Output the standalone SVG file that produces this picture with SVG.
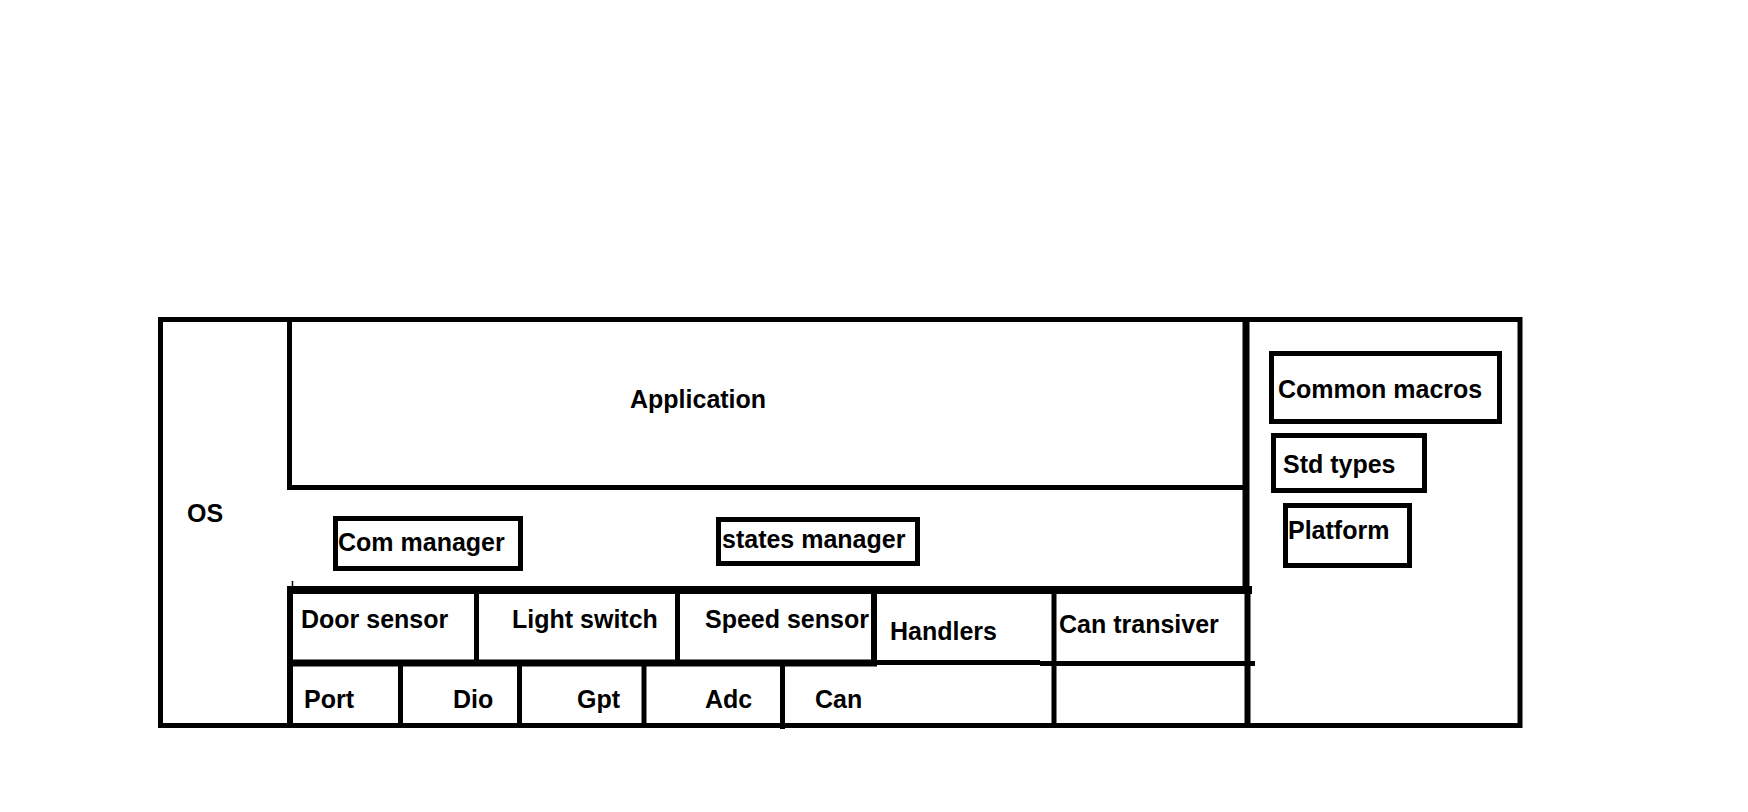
<svg xmlns="http://www.w3.org/2000/svg" width="1748" height="812" viewBox="0 0 1748 812">
<style>
  .b { fill: none; stroke: #000; stroke-width: 5; }
  .t { font-family: "Liberation Sans", Arial, sans-serif; font-weight: bold; font-size: 25px; fill: #000; }
  line { stroke: #000; stroke-width: 5; }
</style>
<rect width="1748" height="812" fill="#fff"/>
<g id="frame">
  <rect class="b" x="160.5" y="319.5" width="1359.5" height="406"/>
</g>
<g id="connectors">
  <line x1="289.5" y1="317" x2="289.5" y2="490"/>
  <line x1="290" y1="586" x2="290" y2="728" style="stroke-width:6"/>
  <line x1="292.5" y1="581" x2="292.5" y2="590" style="stroke-width:1.5"/>
  <line x1="287" y1="487.5" x2="1249" y2="487.5"/>
  <line x1="1246" y1="317" x2="1246" y2="592" style="stroke-width:7"/>
  <line x1="1247.5" y1="590" x2="1247.5" y2="728" style="stroke-width:6"/>
  <line x1="287" y1="590" x2="1252" y2="590" style="stroke-width:8"/>
  <line x1="476.5" y1="590" x2="476.5" y2="663"/>
  <line x1="677.5" y1="590" x2="677.5" y2="663"/>
  <line x1="874" y1="590" x2="874" y2="666" style="stroke-width:6"/>
  <line x1="1054" y1="590" x2="1054" y2="728"/>
  <line x1="287" y1="663" x2="877" y2="663" style="stroke-width:7"/>
  <line x1="874" y1="662.5" x2="1040" y2="662.5"/>
  <line x1="1040" y1="663.5" x2="1255" y2="663.5"/>
  <line x1="400.5" y1="663" x2="400.5" y2="725"/>
  <line x1="519.5" y1="663" x2="519.5" y2="725"/>
  <line x1="644" y1="663" x2="644" y2="725"/>
  <line x1="782.5" y1="663" x2="782.5" y2="729"/>
</g>
<g id="os"><text class="t" x="187" y="522">OS</text></g>
<g id="application"><text class="t" x="630" y="408">Application</text></g>
<g id="com-manager">
  <rect class="b" x="335.5" y="518.5" width="185" height="50"/>
  <text class="t" x="338" y="551">Com manager</text>
</g>
<g id="states-manager">
  <rect class="b" x="718.5" y="519.5" width="199" height="44"/>
  <text class="t" x="722" y="548">states manager</text>
</g>
<g id="common-macros">
  <rect class="b" x="1271.5" y="353.5" width="228" height="68"/>
  <text class="t" x="1278" y="398">Common macros</text>
</g>
<g id="std-types">
  <rect class="b" x="1273.5" y="435.5" width="151" height="55"/>
  <text class="t" x="1283" y="473">Std types</text>
</g>
<g id="platform">
  <rect class="b" x="1285.5" y="505.5" width="124" height="60"/>
  <text class="t" x="1288" y="539">Platform</text>
</g>
<g id="door-sensor"><text class="t" x="301" y="628">Door sensor</text></g>
<g id="light-switch"><text class="t" x="512" y="628">Light switch</text></g>
<g id="speed-sensor"><text class="t" x="705" y="628">Speed sensor</text></g>
<g id="handlers"><text class="t" x="890" y="640">Handlers</text></g>
<g id="can-transiver"><text class="t" x="1059" y="633">Can transiver</text></g>
<g id="port"><text class="t" x="304" y="708">Port</text></g>
<g id="dio"><text class="t" x="453" y="708">Dio</text></g>
<g id="gpt"><text class="t" x="577" y="708">Gpt</text></g>
<g id="adc"><text class="t" x="705" y="708">Adc</text></g>
<g id="can"><text class="t" x="815" y="708">Can</text></g>
</svg>
